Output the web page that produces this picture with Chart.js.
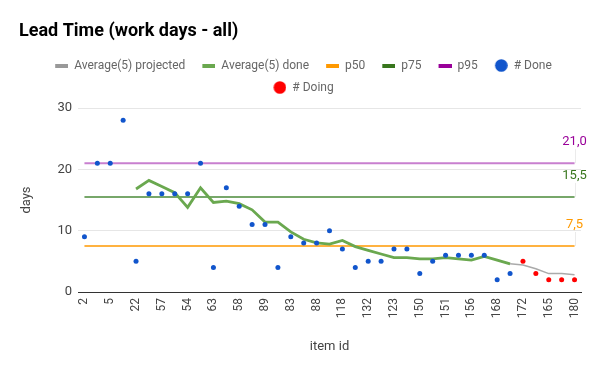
<!DOCTYPE html>
<html>
<head>
<meta charset="utf-8">
<script src="https://cdn.jsdelivr.net/npm/chart.js@4/dist/chart.umd.min.js"></script>
<style>
  html, body { margin: 0; padding: 0; background: #fff; }
  #wrap { width: 600px; height: 371px; }
</style>
</head>
<body>
<div id="wrap"><canvas id="leadChart"></canvas></div>
<script>
// item ids on the x axis (only every other one is printed)
const itemIds = ['2', '4', '5', '11', '22', '45', '57', '52', '54', '60', '63', '66', '58', '77',
  '89', '90', '83', '86', '88', '104', '118', '127', '132', '120', '123', '139', '150', '147',
  '151', '154', '156', '162', '168', '170', '172', '174', '165', '177', '180'];

// lead time of finished items
const doneDays = [9, 21, 21, 28, 5, 16, 16, 16, 16, 21, 4, 17, 14, 11, 11, 4, 9, 8, 8, 10,
  7, 4, 5, 5, 7, 7, 3, 5, 6, 6, 6, 6, 2, 3, null, null, null, null, null];

// items still in progress
const doingDays = [null, null, null, null, null, null, null, null, null, null, null, null, null,
  null, null, null, null, null, null, null, null, null, null, null, null, null, null, null,
  null, null, null, null, null, null, 5, 3, 2, 2, 2];

// moving average over 5 done items
const avgDone = [null, null, null, null, 16.8, 18.2, 17.2, 16.2, 13.8, 17, 14.6, 14.8, 14.4,
  13.4, 11.4, 11.4, 9.8, 8.6, 8, 7.8, 8.4, 7.4, 6.8, 6.2, 5.6, 5.6, 5.4, 5.4, 5.6, 5.4, 5.2,
  5.8, 5.2, 4.6, null, null, null, null, null];

// moving average continued over the items in progress
const avgProjected = [null, null, null, null, null, null, null, null, null, null, null, null,
  null, null, null, null, null, null, null, null, null, null, null, null, null, null, null,
  null, null, null, null, null, null, 4.6, 4.4, 3.8, 3, 3, 2.8];

// percentiles
const p50 = 7.5;
const p75 = 15.5;
const p95 = 21.0;

const yTicks = [0, 10, 20, 30];

// little pictures for the legend
function legendIcon(color, kind) {
  const c = document.createElement('canvas');
  c.width = 20;
  c.height = 13;
  const g = c.getContext('2d');
  g.fillStyle = color;
  if (kind === 'line') {
    g.fillRect(7, 5, 13, 4);
  } else {
    g.beginPath();
    g.arc(13.5, 6.5, 6.3, 0, Math.PI * 2);
    g.fill();
  }
  return c;
}

const icons = [
  legendIcon('#999999', 'line'),
  legendIcon('#6aa84f', 'line'),
  legendIcon('#ff9900', 'line'),
  legendIcon('#38761d', 'line'),
  legendIcon('#990099', 'line'),
  legendIcon('#1155cc', 'dot'),
  legendIcon('#ff0000', 'dot'),
];

// a few empty pixels between the legend and the plot
const legendGap = {
  id: 'legendGap',
  beforeInit(chart) {
    Chart.layouts.addBox(chart, {
      position: 'top',
      weight: 100,
      fullSize: true,
      options: {},
      isHorizontal: () => true,
      update(maxWidth) { this.width = maxWidth; this.height = 4.5; },
      draw() {},
    });
  }
};

// value labels at the end of the percentile lines
const endLabels = {
  id: 'endLabels',
  afterDatasetsDraw(chart) {
    const { ctx, scales } = chart;
    const x = scales.x.getPixelForValue(itemIds.length - 1);
    const marks = [
      { v: p95, text: '21,0', color: '#990099' },
      { v: p75, text: '15,5', color: '#38761d' },
      { v: p50, text: '7,5', color: '#ff9900' },
    ];
    ctx.save();
    marks.forEach(m => {
      const y = scales.y.getPixelForValue(m.v);
      ctx.strokeStyle = 'rgba(0,0,0,0.08)';
      ctx.lineWidth = 1;
      ctx.beginPath();
      ctx.moveTo(Math.round(x) + 0.5, y - 14);
      ctx.lineTo(Math.round(x) + 0.5, y);
      ctx.stroke();
      ctx.fillStyle = m.color;
      ctx.font = '13px Roboto';
      ctx.textAlign = 'center';
      ctx.textBaseline = 'middle';
      ctx.fillText(m.text, x, y - 21);
    });
    ctx.restore();
  }
};

const ctx = document.getElementById('leadChart').getContext('2d');

const leadChart = new Chart(ctx, {
  type: 'line',
  data: {
    labels: itemIds,
    datasets: [
      {
        label: 'Average(5) projected',
        data: avgProjected,
        borderColor: '#aaaaaa',
        borderWidth: 1.5,
        pointRadius: 0,
        order: 2,
      },
      {
        label: 'Average(5) done',
        data: avgDone,
        borderColor: '#6aa84f',
        borderWidth: 2.8,
        pointRadius: 0,
        order: 2,
      },
      {
        label: 'p50',
        data: itemIds.map(() => p50),
        borderColor: '#ff9900',
        borderWidth: 1.5,
        pointRadius: 0,
        order: 3,
      },
      {
        label: 'p75',
        data: itemIds.map(() => p75),
        borderColor: '#4a8a38',
        borderWidth: 1.5,
        pointRadius: 0,
        order: 3,
      },
      {
        label: 'p95',
        data: itemIds.map(() => p95),
        borderColor: '#c87fcf',
        borderWidth: 2,
        pointRadius: 0,
        order: 3,
      },
      {
        label: '# Done',
        data: doneDays,
        showLine: false,
        borderColor: '#1155cc',
        backgroundColor: '#1155cc',
        pointRadius: 2.5,
        pointBorderWidth: 0,
        order: 0,
      },
      {
        label: '# Doing',
        data: doingDays,
        showLine: false,
        borderColor: '#ff0000',
        backgroundColor: '#ff0000',
        pointRadius: 2.5,
        pointBorderWidth: 0,
        order: 0,
      },
    ],
  },
  options: {
    responsive: true,
    maintainAspectRatio: false,
    animation: false,
    layout: { padding: { left: 19, right: 19, top: 0, bottom: 0 } },
    plugins: {
      tooltip: { enabled: false },
      title: {
        display: true,
        text: 'Lead Time (work days - all)',
        align: 'start',
        color: '#000',
        font: { family: 'Roboto', size: 18, weight: 'bold' },
        padding: { top: 21, bottom: 6.9 },
      },
      legend: {
        display: true,
        position: 'top',
        labels: {
          usePointStyle: true,
          pointStyleWidth: 20,
          padding: 10,
          color: '#666',
          font: { family: 'Roboto', size: 12 },
          sort: (a, b) => a.datasetIndex - b.datasetIndex,
          generateLabels(chart) {
            const items = Chart.defaults.plugins.legend.labels.generateLabels(chart);
            items.forEach(it => { it.pointStyle = icons[it.datasetIndex]; });
            return items;
          },
        },
      },
    },
    scales: {
      x: {
        offset: true,
        grid: { display: false, drawTicks: false },
        border: { display: true, color: '#333', width: 1 },
        ticks: {
          autoSkip: false,
          minRotation: 90,
          maxRotation: 90,
          padding: 6,
          color: '#444',
          font: { family: 'Roboto', size: 12 },
          callback: (v, i) => (i % 2 === 0 ? itemIds[i] : ''),
        },
        title: {
          display: true,
          text: 'item id',
          color: '#444',
          font: { family: 'Roboto', size: 13 },
          padding: { top: 16, bottom: 16 },
        },
        afterFit(scale) { scale.height = 79; },
      },
      y: {
        min: 0,
        max: 30,
        grid: { color: '#e6e6e6', drawTicks: false },
        border: { display: false },
        ticks: {
          padding: 6,
          color: '#444',
          font: { family: 'Roboto', size: 13 },
        },
        afterBuildTicks(scale) { scale.ticks = yTicks.map(v => ({ value: v })); },
        title: {
          display: true,
          text: 'days',
          color: '#444',
          font: { family: 'Roboto', size: 13 },
          padding: 0,
        },
        afterFit(scale) { scale.width = 59; },
      },
    },
  },
  plugins: [legendGap, endLabels],
});
</script>
</body>
</html>
